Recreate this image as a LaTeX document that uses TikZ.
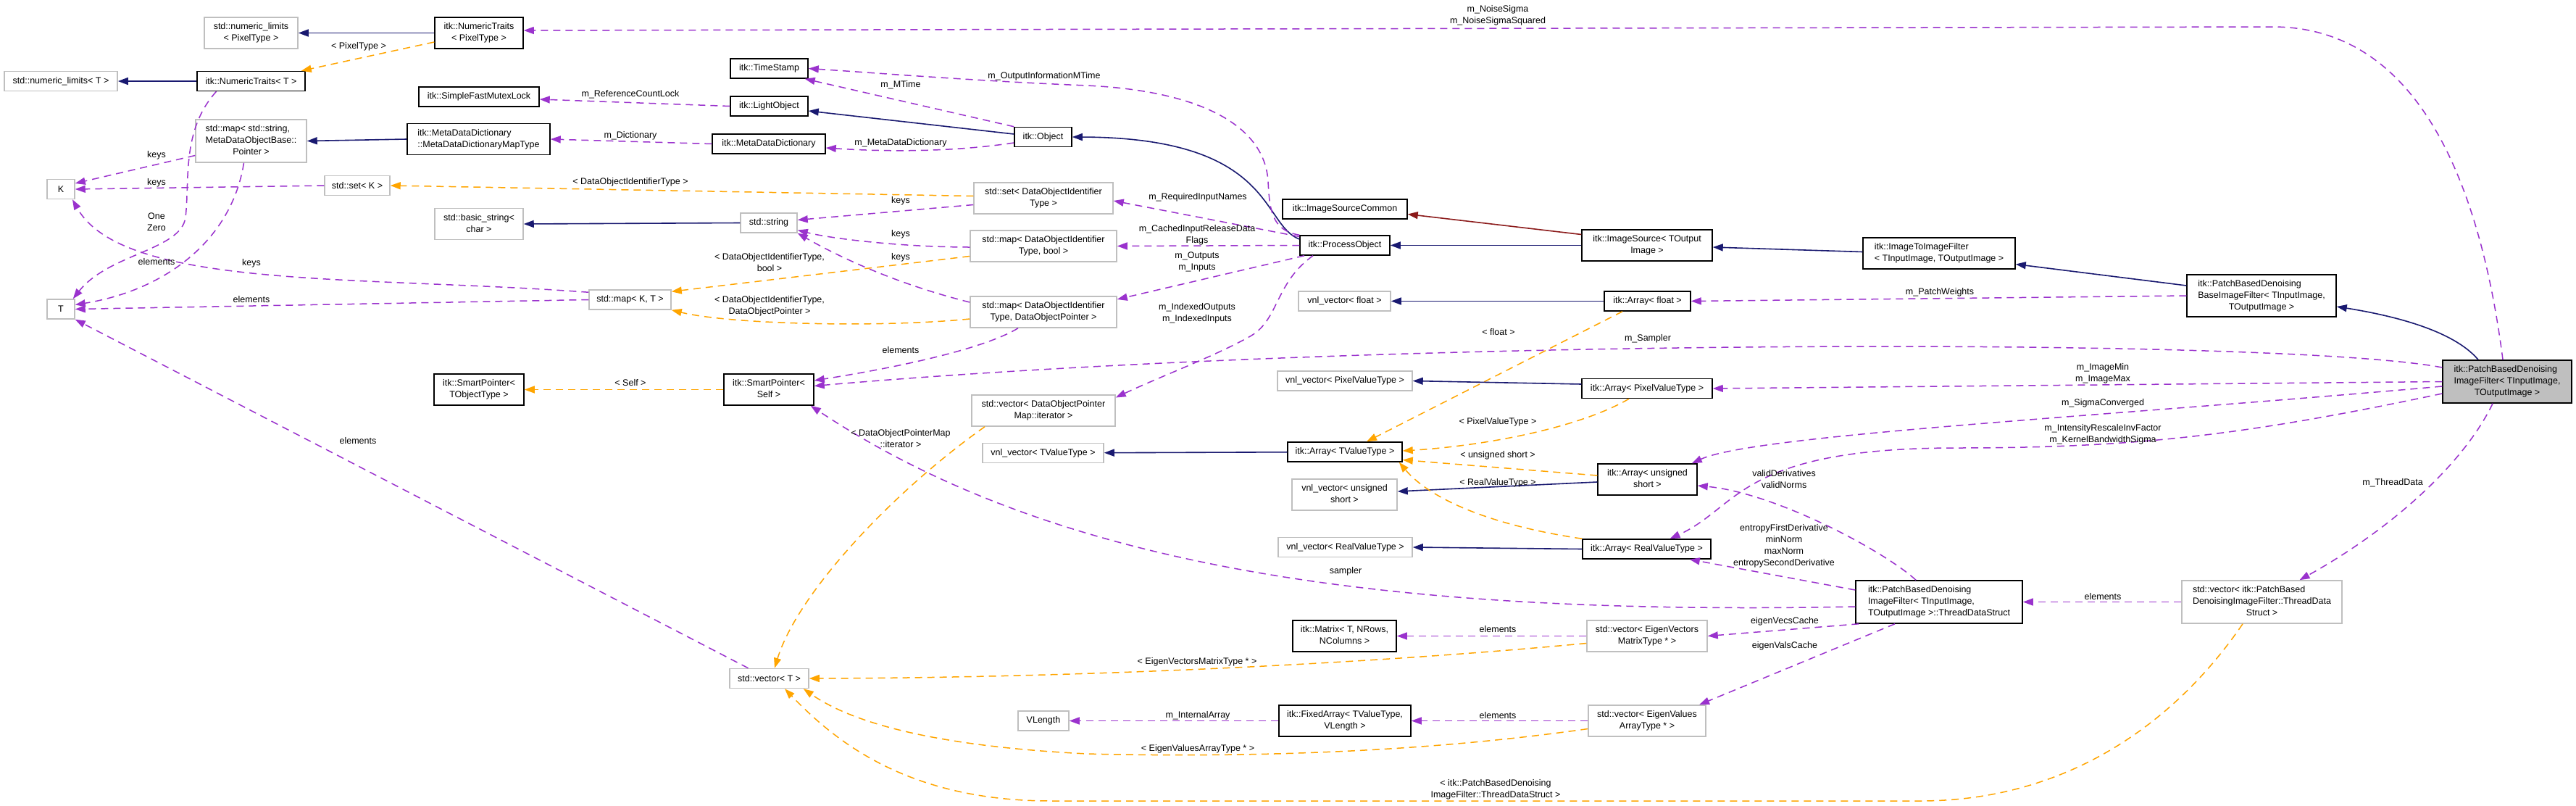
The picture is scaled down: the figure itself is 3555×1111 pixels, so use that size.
\documentclass[tikz,border=0pt]{standalone}
\usepackage{fontspec}
\setmainfont{Liberation Sans}
\usetikzlibrary{arrows.meta}
\definecolor{mblue}{HTML}{191970}
\definecolor{purp}{HTML}{9A32CD}
\definecolor{orng}{HTML}{FFA500}
\definecolor{fbrick}{HTML}{8B1A1A}
\definecolor{gry}{HTML}{BFBFBF}
\newcommand\dfont{\fontsize{12.5}{16}\selectfont}
\newcommand\dl[2]{\begin{tabular}{@{}l@{}}#1\\\multicolumn{1}{@{}c@{}}{#2}\end{tabular}}
\begin{document}
\begin{tikzpicture}[x=1pt,y=-1pt,
 box/.style={draw, line width=1.5pt, inner sep=0pt, font=\dfont},
 gbox/.style={box, draw=gry},
 bbox/.style={box, draw=black},
 mbox/.style={box, draw=black, fill=gry},
 lbl/.style={font=\dfont, align=center, inner sep=0pt},
 inh/.style={draw=mblue, line width=1.6pt, -{Triangle[length=14pt,width=10pt]}},
 prv/.style={draw=fbrick, line width=1.6pt, -{Triangle[length=14pt,width=10pt]}},
 use/.style={draw=purp, line width=1.5pt, dash pattern=on 10pt off 7pt, -{Triangle[length=14pt,width=10pt]}},
 tpl/.style={draw=orng, line width=1.5pt, dash pattern=on 10pt off 7pt, -{Triangle[length=14pt,width=10pt]}},
]
\fill[white] (0,0) rectangle (3555,1111);
\useasboundingbox (0,0) rectangle (3555,1111);

% ---------- nodes ----------
\node[gbox, minimum width=129pt, minimum height=43pt] (nlpt) at (346.5,45.5) {\dl{std::numeric\_limits}{< PixelType >}};
\node[bbox, minimum width=122pt, minimum height=43pt] (ntpt) at (661,45.5) {\dl{itk::NumericTraits}{< PixelType >}};
\node[gbox, minimum width=156pt, minimum height=27pt] (nlt) at (84,112) {std::numeric\_limits< T >};
\node[bbox, minimum width=149pt, minimum height=27pt] (ntt) at (346.5,112) {itk::NumericTraits< T >};
\node[bbox, minimum width=166pt, minimum height=27pt] (sfml) at (661,133.5) {itk::SimpleFastMutexLock};
\node[gbox, minimum width=153pt, minimum height=59pt] (mapstr) at (346.5,194.5) {\dl{std::map< std::string,\\MetaDataObjectBase::}{Pointer >}};
\node[bbox, minimum width=197pt, minimum height=43pt] (mddmt) at (660.5,192) {\dl{itk::MetaDataDictionary}{::MetaDataDictionaryMapType}};
\node[gbox, minimum width=38pt, minimum height=27pt] (K) at (84,261) {K};
\node[gbox, minimum width=90pt, minimum height=27pt] (setk) at (493,256) {std::set< K >};
\node[gbox, minimum width=122pt, minimum height=43pt] (bstr) at (661,309) {\dl{std::basic\_string<}{char >}};
\node[gbox, minimum width=38pt, minimum height=27pt] (T) at (84,426.5) {T};
\node[bbox, minimum width=124pt, minimum height=43pt] (sptot) at (661,537.5) {\dl{itk::SmartPointer<}{TObjectType >}};
\node[bbox, minimum width=107pt, minimum height=27pt] (ts) at (1061.5,94.5) {itk::TimeStamp};
\node[bbox, minimum width=107pt, minimum height=27pt] (lo) at (1061.5,146.5) {itk::LightObject};
\node[bbox, minimum width=156pt, minimum height=27pt] (mdd) at (1061,198.5) {itk::MetaDataDictionary};
\node[bbox, minimum width=79pt, minimum height=27pt] (obj) at (1439.5,189) {itk::Object};
\node[gbox, minimum width=192pt, minimum height=43pt] (setdoit) at (1440,273.5) {\dl{std::set< DataObjectIdentifier}{Type >}};
\node[gbox, minimum width=78pt, minimum height=27pt] (str) at (1061,307.5) {std::string};
\node[gbox, minimum width=202pt, minimum height=43pt] (mapbool) at (1440,339.5) {\dl{std::map< DataObjectIdentifier}{Type, bool >}};
\node[bbox, minimum width=172pt, minimum height=27pt] (isc) at (1856,288.5) {itk::ImageSourceCommon};
\node[bbox, minimum width=124pt, minimum height=27pt] (po) at (1856,338.5) {itk::ProcessObject};
\node[bbox, minimum width=180pt, minimum height=43pt] (is) at (2273,338.5) {\dl{itk::ImageSource< TOutput}{Image >}};
\node[bbox, minimum width=210pt, minimum height=43pt] (itif) at (2676,349.5) {\dl{itk::ImageToImageFilter}{< TInputImage, TOutputImage >}};
\node[bbox, minimum width=206pt, minimum height=58pt] (base) at (3121,408) {\dl{itk::PatchBasedDenoising\\BaseImageFilter< TInputImage,}{TOutputImage >}};
\node[mbox, minimum width=178pt, minimum height=59pt] (main) at (3460,526.5) {\dl{itk::PatchBasedDenoising\\ImageFilter< TInputImage,}{TOutputImage >}};
\node[gbox, minimum width=113pt, minimum height=27pt] (mapkt) at (869.5,413.5) {std::map< K, T >};
\node[gbox, minimum width=202pt, minimum height=43pt] (mapdop) at (1440,430.5) {\dl{std::map< DataObjectIdentifier}{Type, DataObjectPointer >}};
\node[bbox, minimum width=124pt, minimum height=43pt] (spself) at (1061,537.5) {\dl{itk::SmartPointer<}{Self >}};
\node[gbox, minimum width=198pt, minimum height=43pt] (vecdopmi) at (1440,566.5) {\dl{std::vector< DataObjectPointer}{Map::iterator >}};
\node[gbox, minimum width=167pt, minimum height=27pt] (vnltvt) at (1439.5,625) {vnl\_vector< TValueType >};
\node[gbox, minimum width=127pt, minimum height=27pt] (vnlf) at (1855.5,415.5) {vnl\_vector< float >};
\node[bbox, minimum width=119pt, minimum height=27pt] (arrf) at (2273.5,415.5) {itk::Array< float >};
\node[gbox, minimum width=186pt, minimum height=27pt] (vnlpvt) at (1856,525.5) {vnl\_vector< PixelValueType >};
\node[bbox, minimum width=180pt, minimum height=27pt] (arrpvt) at (2273,536) {itk::Array< PixelValueType >};
\node[bbox, minimum width=158pt, minimum height=27pt] (arrtvt) at (1856,623.5) {itk::Array< TValueType >};
\node[gbox, minimum width=145pt, minimum height=43pt] (vnlus) at (1855.5,682.5) {\dl{vnl\_vector< unsigned}{short >}};
\node[bbox, minimum width=137pt, minimum height=43pt] (arrus) at (2273.5,661.5) {\dl{itk::Array< unsigned}{short >}};
\node[bbox, minimum width=177pt, minimum height=27pt] (arrrvt) at (2272.5,757.5) {itk::Array< RealValueType >};
\node[gbox, minimum width=185pt, minimum height=27pt] (vnlrvt) at (1856.5,755) {vnl\_vector< RealValueType >};
\node[bbox, minimum width=230pt, minimum height=59pt] (tds) at (2676,830.5) {\dl{itk::PatchBasedDenoising\\ImageFilter< TInputImage,}{TOutputImage >::ThreadDataStruct}};
\node[bbox, minimum width=143pt, minimum height=43pt] (mat) at (1855.5,877.5) {\dl{itk::Matrix< T, NRows,}{NColumns >}};
\node[gbox, minimum width=166pt, minimum height=43pt] (vecevm) at (2273,877.5) {\dl{std::vector< EigenVectors}{MatrixType * >}};
\node[bbox, minimum width=182pt, minimum height=43pt] (fixarr) at (1856,994.5) {\dl{itk::FixedArray< TValueType,}{VLength >}};
\node[gbox, minimum width=162pt, minimum height=43pt] (veceva) at (2273,994.5) {\dl{std::vector< EigenValues}{ArrayType * >}};
\node[gbox, minimum width=109pt, minimum height=27pt] (vect) at (1061.5,936) {std::vector< T >};
\node[gbox, minimum width=70pt, minimum height=27pt] (vlen) at (1440,994.5) {VLength};
\node[gbox, minimum width=221pt, minimum height=59pt] (vectds) at (3121.5,830.5) {\dl{std::vector< itk::PatchBased\\DenoisingImageFilter::ThreadData}{Struct >}};

% ---------- edges ----------
\draw[inh] (ntpt) -- (nlpt);
\draw[tpl] ([yshift=-12.5pt]ntpt.west) -- ([xshift=-6pt]ntt.north east);
\draw[inh] (ntt) -- (nlt);
\draw[use] ([xshift=-6pt]main.north) .. controls (3425,270) and (3345,37) .. (3136,37) -- ([yshift=3.5pt]ntpt.east);
\draw[use] (lo.west) -- ([yshift=-3.5pt]sfml.east);
\draw[use] (mdd.west) -- (mddmt.east);
\draw[inh] (mddmt.west) -- (mapstr.east);
\draw[use] ([yshift=-20pt]mapstr.west) -- ([yshift=8pt]K.east);
\draw[use] (setk.west) -- (K.east);
\draw[use] ([xshift=-10pt]mapstr.south) .. controls (320,330) and (230,400) .. ([yshift=6pt]T.east);
\draw[use] ([xshift=-48pt]ntt.south) .. controls (250,180) and (262,250) .. (256,300) .. controls (250,345) and (150,350) .. ([xshift=-3pt]T.north east);
\draw[use] ([yshift=-4pt]mapkt.north west) .. controls (500,380) and (170,400) .. ([xshift=16pt]K.south);
\draw[use] (mapkt.west) -- (T.east);
\draw[use] ([xshift=-29pt]vect.north) -- (T.south east);
\draw[tpl] (spself.west) -- (sptot.east);
\draw[tpl] ([yshift=3pt]setdoit.west) -- (setk.east);
\draw[use] ([yshift=-9pt]setdoit.west) -- ([yshift=4pt]str.east);
\draw[use] ([yshift=-1.5pt]mapbool.west) .. controls (1250,341) and (1150,330) .. ([yshift=-10pt]str.east);
\draw[tpl] ([yshift=-14pt]mapbool.west) -- ([yshift=-3pt]mapkt.north east);
\draw[tpl] ([yshift=-9.5pt]mapdop.west) .. controls (1220,452) and (1010,448) .. (mapkt.south east);
\draw[use] ([yshift=13.5pt]mapdop.west) .. controls (1230,390) and (1150,350) .. (str.south east);
\draw[use] ([xshift=-35pt]mapdop.south) .. controls (1360,480) and (1250,505) .. ([yshift=12.5pt]spself.east);
\draw[use] ([yshift=19.5pt]main.west) .. controls (3150,465) and (1900,465) .. ([yshift=5pt]spself.east);
\draw[tpl] ([xshift=-34.5pt]arrf.south) -- ([xshift=30pt]arrtvt.north);
\draw[inh] (arrf) -- (vnlf);
\draw[inh] ([yshift=6pt]arrpvt.west) -- (vnlpvt.east);
\draw[tpl] ([xshift=-25pt]arrpvt.south) .. controls (2180,590) and (2050,615) .. ([yshift=1.5pt]arrtvt.east);
\draw[tpl] ([yshift=5.5pt]arrus.west) -- ([yshift=-11pt]arrtvt.east);
\draw[inh] ([yshift=-3.5pt]arrus.west) -- ([yshift=4.5pt]vnlus.east);
\draw[tpl] (arrrvt.north west) .. controls (2060,725) and (1975,690) .. ([xshift=-5pt]arrtvt.south east);
\draw[inh] (arrrvt.west) -- (vnlrvt.east);
\draw[inh] (arrtvt) -- (vnltvt);
\draw[use] (base.west) -- (arrf.east);
\draw[inh] ([xshift=-40pt]main.north) .. controls (3385,455) and (3300,435) .. ([yshift=-15pt]base.east);
\draw[inh] ([yshift=14pt]base.west) -- ([yshift=-15pt]itif.east);
\draw[inh] ([yshift=2pt]itif.west) -- ([yshift=-2.5pt]is.east);
\draw[prv] ([yshift=15pt]is.west) -- ([yshift=-7pt]isc.east);
\draw[inh] (is.west) -- (po.east);
\draw[inh] ([yshift=8.5pt]po.west) .. controls (1740,310) and (1760,190) .. (obj.east);
\draw[inh] ([yshift=4pt]obj.west) -- ([yshift=-6.5pt]lo.east);
\draw[use] (obj.north west) -- ([xshift=-5pt]ts.south east);
\draw[use] ([yshift=-8pt]obj.west) .. controls (1300,212) and (1200,208) .. ([yshift=-5.5pt]mdd.east);
\draw[use] (po.north west) .. controls (1755,318) and (1752,290) .. (1750,250) .. controls (1745,170) and (1650,125) .. (1500,118) .. controls (1350,112) and (1200,100) .. (ts.east);
\draw[use] ([yshift=12pt]po.west) -- ([yshift=-3.5pt]setdoit.east);
\draw[use] (po.west) -- (mapbool.east);
\draw[use] ([xshift=-56pt]po.south) -- ([yshift=17.5pt]mapdop.east);
\draw[use] ([xshift=-44pt]po.south) .. controls (1760,390) and (1765,440) .. (1727,463) .. controls (1680,490) and (1600,520) .. ([yshift=18pt]vecdopmi.east);
\draw[tpl] ([xshift=-81pt]vecdopmi.south) .. controls (1230,680) and (1100,820) .. ([xshift=7.5pt]vect.north);
\draw[use] ([yshift=-6.5pt]tds.west) .. controls (1900,850) and (1450,780) .. ([xshift=-5pt]spself.south east);
\draw[use] ([xshift=-32pt]tds.north) .. controls (2600,760) and (2450,680) .. ([yshift=-8.5pt]arrus.east);
\draw[use] ([yshift=16.5pt]tds.west) -- ([xshift=-30pt]arrrvt.south east);
\draw[use] (main.west) -- (arrpvt.east);
\draw[use] ([yshift=-6.5pt]main.west) .. controls (2900,575) and (2420,600) .. ([xshift=-8pt]arrus.north east);
\draw[use] ([yshift=-16.5pt]main.west) .. controls (3100,600) and (2950,618) .. (2700,618) .. controls (2400,618) and (2400,700) .. ([xshift=32pt]arrrvt.north);
\draw[use] ([xshift=-20pt]main.south) .. controls (3400,640) and (3300,730) .. ([xshift=52pt]vectds.north);
\draw[use] (vectds.west) -- (tds.east);
\draw[tpl] ([xshift=-26.5pt]vectds.south) .. controls (3000,1000) and (2850,1105) .. (2650,1105) -- (1450,1105) .. controls (1250,1105) and (1150,1020) .. ([xshift=21.5pt]vect.south);
\draw[use] ([xshift=5pt]tds.south west) -- (vecevm.east);
\draw[use] ([xshift=-61pt]tds.south) -- ([xshift=72pt]veceva.north);
\draw[use] (vecevm.west) -- (mat.east);
\draw[tpl] ([yshift=-10pt]vecevm.west) .. controls (1900,915) and (1500,935) .. (vect.east);
\draw[use] (veceva.west) -- (fixarr.east);
\draw[tpl] ([yshift=-11pt]veceva.west) .. controls (1950,1040) and (1700,1045) .. (1500,1040) .. controls (1300,1030) and (1180,1000) .. ([xshift=-8pt]vect.south east);
\draw[use] (fixarr.west) -- (vlen.east);
\draw[inh] (str.west) -- (bstr.east);

% ---------- edge labels ----------
\node[lbl] (l1) at (495,64) {< PixelType >};
\node[lbl] (l2) at (2067,21) {m\_NoiseSigma\\m\_NoiseSigmaSquared};
\node[lbl] (l3) at (870,130) {m\_ReferenceCountLock};
\node[lbl] (l4) at (870,187) {m\_Dictionary};
\node[lbl] (l5) at (216,214) {keys};
\node[lbl] (l6) at (216,252) {keys};
\node[lbl] (l7) at (216,306) {One\\Zero};
\node[lbl] (l8) at (216,361) {elements};
\node[lbl] (l9) at (347,363) {keys};
\node[lbl] (l10) at (347,413) {elements};
\node[lbl] (l11) at (494,608) {elements};
\node[lbl] (l12) at (870,528) {< Self >};
\node[lbl] (l13) at (870,251) {< DataObjectIdentifierType >};
\node[lbl] (l14) at (1243,277) {keys};
\node[lbl] (l15) at (1243,323) {keys};
\node[lbl] (l16) at (1243,355) {keys};
\node[lbl] (l17) at (1062,362.5) {< DataObjectIdentifierType,\\bool >};
\node[lbl] (l18) at (1062,422) {< DataObjectIdentifierType,\\DataObjectPointer >};
\node[lbl] (l19) at (1243,483) {elements};
\node[lbl] (l20) at (2274,467) {m\_Sampler};
\node[lbl] (l21) at (2068,458) {< float >};
\node[lbl] (l22) at (2067,582) {< PixelValueType >};
\node[lbl] (l23) at (2067,628) {< unsigned short >};
\node[lbl] (l24) at (2067,666) {< RealValueType >};
\node[lbl] (l25) at (2677,403) {m\_PatchWeights};
\node[lbl] (l26) at (1243,117) {m\_MTime};
\node[lbl] (l27) at (1243,197) {m\_MetaDataDictionary};
\node[lbl] (l28) at (1441,105) {m\_OutputInformationMTime};
\node[lbl] (l29) at (1653,272) {m\_RequiredInputNames};
\node[lbl] (l30) at (1652,324) {m\_CachedInputReleaseData\\Flags};
\node[lbl] (l31) at (1652,361) {m\_Outputs\\m\_Inputs};
\node[lbl] (l32) at (1652,432) {m\_IndexedOutputs\\m\_IndexedInputs};
\node[lbl] (l33) at (1243,605) {< DataObjectPointerMap\\::iterator >};
\node[lbl] (l34) at (1857,788) {sampler};
\node[lbl] (l35) at (2462,661) {validDerivatives\\validNorms};
\node[lbl] (l36) at (2462,753) {entropyFirstDerivative\\minNorm\\maxNorm\\entropySecondDerivative};
\node[lbl] (l37) at (2902,515) {m\_ImageMin\\m\_ImageMax};
\node[lbl] (l38) at (2902,556) {m\_SigmaConverged};
\node[lbl] (l39) at (2902,599) {m\_IntensityRescaleInvFactor\\m\_KernelBandwidthSigma};
\node[lbl] (l40) at (3302,666) {m\_ThreadData};
\node[lbl] (l41) at (2902,823) {elements};
\node[lbl] (l42) at (2064,1089) {< itk::PatchBasedDenoising\\ImageFilter::ThreadDataStruct >};
\node[lbl] (l43) at (2463,857) {eigenVecsCache};
\node[lbl] (l44) at (2463,891) {eigenValsCache};
\node[lbl] (l45) at (2067,868) {elements};
\node[lbl] (l46) at (1652,913) {< EigenVectorsMatrixType * >};
\node[lbl] (l47) at (2067,987) {elements};
\node[lbl] (l48) at (1653,1033) {< EigenValuesArrayType * >};
\node[lbl] (l49) at (1653,987) {m\_InternalArray};
\end{tikzpicture}
\end{document}
